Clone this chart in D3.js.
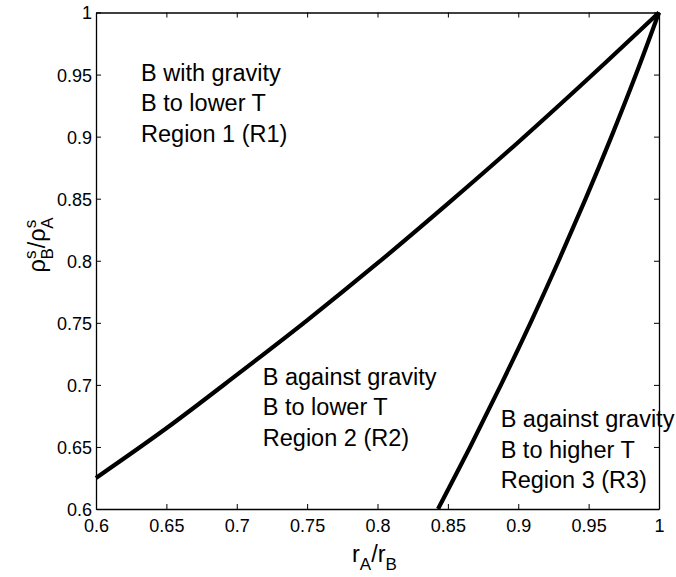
<!DOCTYPE html>
<html>
<head>
<meta charset="utf-8">
<script src="https://cdn.jsdelivr.net/npm/d3@7"></script>
<style>
  body { margin: 0; background: #fff; }
  svg { display: block; font-family: "Liberation Sans", Arial, Helvetica, sans-serif; }
</style>
</head>
<body>
<svg id="chart" width="676" height="577"></svg>
<script>
// Boundary 1 (R1 / R2)
const curve1X = [0.6, 0.65, 0.7, 0.75, 0.8, 0.85, 0.9, 0.95, 1.0];
const curve1Y = [0.625, 0.665, 0.708, 0.752, 0.798, 0.846, 0.8955, 0.947, 1.0];
// Boundary 2 (R2 / R3)
const curve2X = [0.843, 0.8658, 0.8877, 0.9087, 0.9287, 0.9479, 0.9662, 0.9836, 1.0];
const curve2Y = [0.6, 0.65, 0.7, 0.75, 0.8, 0.85, 0.9, 0.95, 1.0];

const xTicks = [0.6, 0.65, 0.7, 0.75, 0.8, 0.85, 0.9, 0.95, 1];
const yTicks = [0.6, 0.65, 0.7, 0.75, 0.8, 0.85, 0.9, 0.95, 1];

const regionLabels = [
  { x: 0.632, y: 0.945, lines: ["B with gravity", "B to lower T", "Region 1 (R1)"] },
  { x: 0.7185, y: 0.7, lines: ["B against gravity", "B to lower T", "Region 2 (R2)"] },
  { x: 0.8875, y: 0.666, lines: ["B against gravity", "B to higher T", "Region 3 (R3)"] }
];

const svg = d3.select("#chart");
const L = 96, R = 659, T = 12.5, B = 509;
const x = d3.scaleLinear().domain([0.6, 1]).range([L, R]);
const y = d3.scaleLinear().domain([0.6, 1]).range([B, T]);

const fmt = d => (d === 1 ? "1" : String(+d.toFixed(2)));

// axes with inward ticks
const tl = 5;
const gx = svg.append("g").attr("transform", `translate(0,${B})`)
  .call(d3.axisBottom(x).tickValues(xTicks).tickSizeInner(-tl).tickSizeOuter(0).tickPadding(10).tickFormat(fmt));
const gxt = svg.append("g").attr("transform", `translate(0,${T})`)
  .call(d3.axisTop(x).tickValues(xTicks).tickSizeInner(-tl).tickSizeOuter(0).tickFormat(""));
const gy = svg.append("g").attr("transform", `translate(${L},0)`)
  .call(d3.axisLeft(y).tickValues(yTicks).tickSizeInner(-tl).tickSizeOuter(0).tickPadding(4).tickFormat(fmt));
const gyr = svg.append("g").attr("transform", `translate(${R},0)`)
  .call(d3.axisRight(y).tickValues(yTicks).tickSizeInner(-tl).tickSizeOuter(0).tickFormat(""));

[gx, gxt, gy, gyr].forEach(g => {
  g.selectAll(".domain").attr("stroke", "#000").attr("stroke-width", 1.3);
  g.selectAll(".tick line").attr("stroke", "#000").attr("stroke-width", 1);
  g.selectAll("text").attr("fill", "#000").style("font-size", "18px")
    .style("font-family", "'Liberation Sans', Arial, sans-serif");
});
gx.selectAll("text").attr("dy", "0.71em");
gy.selectAll("text").attr("dy", "0.36em");

// curves
const pts1 = curve1X.map((d, i) => [d, curve1Y[i]]);
const pts2 = curve2X.map((d, i) => [d, curve2Y[i]]);
const line = d3.line().x(d => x(d[0])).y(d => y(d[1])).curve(d3.curveCatmullRom.alpha(0.5));

svg.append("path").datum(pts1).attr("d", line)
  .attr("fill", "none").attr("stroke", "#000").attr("stroke-width", 4.2).attr("stroke-linejoin", "round");
svg.append("path").datum(pts2).attr("d", line)
  .attr("fill", "none").attr("stroke", "#000").attr("stroke-width", 4.2).attr("stroke-linejoin", "round");

// region labels
regionLabels.forEach(r => {
  const t = svg.append("text").attr("x", x(r.x)).attr("y", y(r.y))
    .attr("fill", "#000").style("font-size", "23.5px");
  r.lines.forEach((s, i) => {
    t.append("tspan").attr("x", x(r.x)).attr("dy", i === 0 ? 0 : 30.5).text(s);
  });
});

// axis titles
const xt = svg.append("text").attr("x", 352).attr("y", 562).attr("fill", "#000").style("font-size", "23.5px");
xt.append("tspan").text("r");
xt.append("tspan").attr("dy", 8).style("font-size", "17px").text("A");
xt.append("tspan").attr("dy", -8).text("/r");
xt.append("tspan").attr("dy", 8).style("font-size", "17px").text("B");

const yt = svg.append("text").attr("transform", "translate(45,245) rotate(-90)")
  .attr("text-anchor", "middle").attr("fill", "#000").style("font-size", "23.5px");
yt.append("tspan").text("ρ");
yt.append("tspan").attr("dy", -9).style("font-size", "17px").text("s");
yt.append("tspan").attr("dy", 17).attr("dx", -9).style("font-size", "17px").text("B");
yt.append("tspan").attr("dy", -8).text("/ρ");
yt.append("tspan").attr("dy", -9).style("font-size", "17px").text("s");
yt.append("tspan").attr("dy", 17).attr("dx", -9).style("font-size", "17px").text("A");
</script>
</body>
</html>
